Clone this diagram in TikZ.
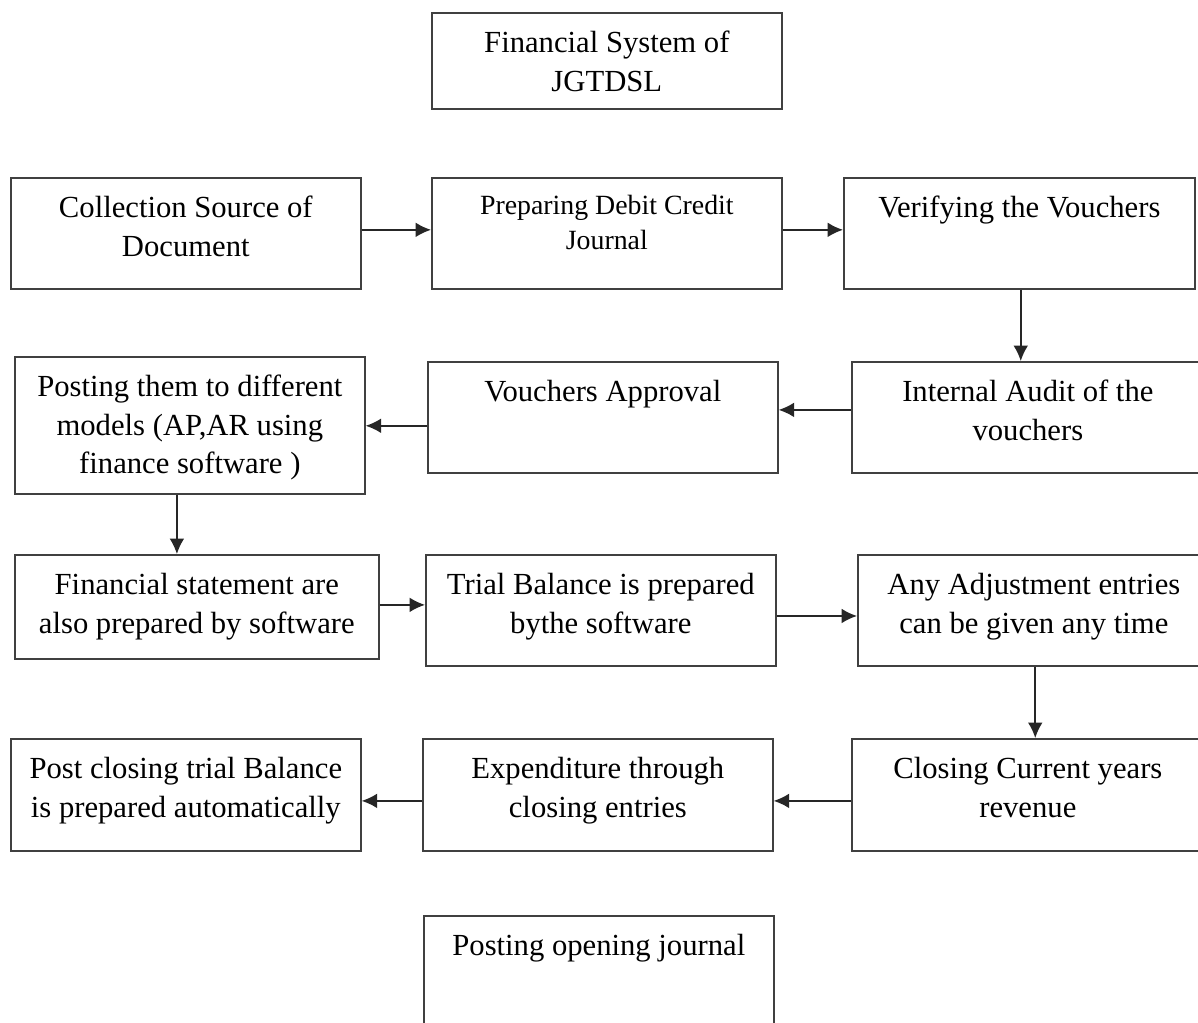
\documentclass[tikz,border=0pt]{standalone}
\usepackage{fontspec}
\setmainfont{Liberation Serif}
\usetikzlibrary{arrows.meta}

\newlength\pxu
\setlength\pxu{0.025cm}
% box text: width, height (in px), text set at the top
\newcommand{\bx}[3]{\parbox[c][#2\pxu][t]{#1\pxu}{\centering\fontsize{21.8pt}{27.5pt}\selectfont\rule{0pt}{28.3pt}#3\par}}
\newcommand{\sbx}[3]{\parbox[c][#2\pxu][t]{#1\pxu}{\centering\fontsize{19.8pt}{24.8pt}\selectfont\rule{0pt}{26.2pt}#3\par}}

\begin{document}
\begin{tikzpicture}[x=0.025cm, y=-0.025cm, >={Latex[length=11pt,width=10.5pt]},
  box/.style={draw=black!75, line width=1.2pt, inner sep=0pt, anchor=north west},
  flow/.style={->, draw=black!85, line width=1.1pt}]
\clip (0,0) rectangle (1198,1022);

\node[box] (0) at (431,12) {\bx{350}{96}{Financial System of\\JGTDSL}};

\node[box] (1) at (10,177) {\bx{350}{111}{Collection Source of\\Document}};
\node[box] (2) at (431,177) {\sbx{350}{111}{Preparing Debit Credit\\Journal}};
\node[box] (3) at (843,177) {\bx{351}{111}{Verifying the Vouchers}};

\node[box] (4) at (851,361) {\bx{352}{111}{Internal Audit of the\\vouchers}};
\node[box] (5) at (427,361) {\bx{350}{111}{Vouchers Approval}};
\node[box] (6) at (14,356) {\bx{350}{137}{Posting them to different\\models (AP,AR using\\finance software )}};

\node[box] (7) at (14,554) {\bx{364}{104}{Financial statement are\\also prepared by software}};
\node[box] (8) at (425,554) {\bx{350}{111}{Trial Balance is prepared\\bythe software}};
\node[box] (9) at (857,554) {\bx{352}{111}{Any Adjustment entries\\can be given any time}};

\node[box] (10) at (851,738) {\bx{352}{112}{Closing Current years\\revenue}};
\node[box] (11) at (422,738) {\bx{350}{112}{Expenditure through\\closing entries}};
\node[box] (12) at (10,738) {\bx{350}{112}{Post closing trial Balance\\is prepared automatically}};

\node[box] (13) at (423,915) {\bx{350}{111}{Posting opening journal}};

\draw[flow] ([yshift=2.5pt]1.east) -- ([yshift=2.5pt]2.west);
\draw[flow] ([yshift=2.5pt]2.east) -- ([yshift=2.5pt]3.west);
\draw[flow] ([xshift=1pt]3.south) -- ([xshift=1pt]3.south |- 4.north);
\draw[flow] ([yshift=5.3pt]4.west) -- ([yshift=5.3pt]5.east);
\draw[flow] ([yshift=-6pt]5.west) -- ([yshift=-6pt]5.west -| 6.east);
\draw[flow] ([xshift=-9.2pt]6.south) -- ([xshift=-9.2pt]6.south |- 7.north);
\draw[flow] ([yshift=1.4pt]7.east) -- ([yshift=1.4pt]7.east -| 8.west);
\draw[flow] ([yshift=-4pt]8.east) -- ([yshift=-4pt]9.west);
\draw[flow] ([xshift=1pt]9.south) -- ([xshift=1pt]9.south |- 10.north);
\draw[flow] ([yshift=-4.3pt]10.west) -- ([yshift=-4.3pt]11.east);
\draw[flow] ([yshift=-4.3pt]11.west) -- ([yshift=-4.3pt]11.west -| 12.east);
\end{tikzpicture}
\end{document}
